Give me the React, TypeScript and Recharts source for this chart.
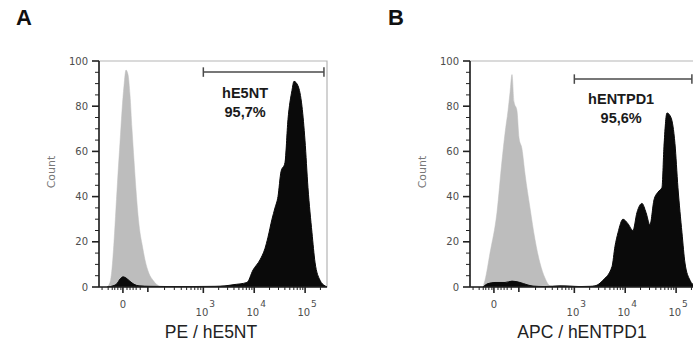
import React from 'react';
import {
  Area,
  AreaChart,
  ReferenceArea,
  ReferenceDot,
  ReferenceLine,
  XAxis,
  YAxis,
} from 'recharts';

type Pt = [number, number];

// x = position on the biexponential axis in decades (3 = 10^3), y = count
const peIsotype: Pt[] = [
  [1.107, 0], [1.166, 2], [1.205, 8], [1.245, 20], [1.284, 35], [1.323, 50],
  [1.363, 64], [1.402, 78], [1.441, 89], [1.48, 96], [1.52, 94], [1.559, 85],
  [1.598, 70], [1.638, 56], [1.677, 43], [1.716, 32], [1.756, 24], [1.795, 19],
  [1.854, 12], [1.932, 6], [2.011, 3], [2.089, 1], [2.168, 0],
];

const peStained: Pt[] = [
  [1.107, 0], [1.225, 0.5], [1.304, 1.5], [1.363, 3.5], [1.422, 4.5], [1.48, 4],
  [1.559, 2.5], [1.638, 1.2], [1.736, 0.5], [1.952, 0.3], [2.345, 0.2], [2.738, 0.2],
  [3.229, 0.3], [3.425, 0.5], [3.583, 1], [3.858, 2], [3.976, 7.5], [4.113, 12],
  [4.211, 17], [4.27, 22], [4.349, 30], [4.408, 35], [4.467, 40], [4.526, 51],
  [4.604, 55], [4.663, 74], [4.742, 87], [4.781, 91], [4.86, 89], [4.938, 80],
  [4.997, 65], [5.056, 44], [5.135, 24], [5.194, 11], [5.292, 3], [5.39, 0.5], [5.43, 0],
];

const apcIsotype: Pt[] = [
  [1.205, 0], [1.245, 3], [1.343, 15], [1.48, 33], [1.579, 56], [1.638, 68],
  [1.697, 78], [1.736, 86], [1.775, 94], [1.814, 82], [1.873, 78], [1.913, 66],
  [1.972, 61], [2.031, 50], [2.129, 35], [2.227, 21], [2.325, 10.6], [2.423, 4],
  [2.522, 0.5], [2.64, 0],
];

const apcStained: Pt[] = [
  [1.205, 0], [1.304, 1.5], [1.441, 2], [1.638, 2], [1.775, 2.6], [1.932, 2],
  [2.07, 1], [2.188, 0.4], [2.423, 0.2], [2.718, 0.5], [2.915, 0.4], [3.111, 0.2],
  [3.308, 0.3], [3.406, 0.5], [3.563, 3], [3.74, 9], [3.799, 18], [3.858, 24],
  [3.956, 30], [4.054, 28], [4.152, 25], [4.231, 33], [4.329, 37], [4.408, 33],
  [4.486, 27.5], [4.565, 38.5], [4.644, 42], [4.722, 44], [4.761, 62], [4.82, 77],
  [4.899, 75], [4.977, 63.5], [5.036, 44], [5.115, 24], [5.174, 10.6], [5.272, 3],
  [5.37, 0.5], [5.43, 0],
];

const X_DOMAIN: [number, number] = [0.95, 5.43];
const xMajorTicks = [1.42, 3, 4, 5];
const xMajorLabels = ['0', '3', '4', '5']; // '0' is plain, the others are powers of ten
const xMidTicks = [1.91];
const xLinearMinor = [1.01, 1.13, 1.21, 1.26, 1.32, 1.38, 1.5, 1.56, 1.62, 1.68, 1.76];

const logMinor: number[] = [];
[[1.91, 3], [3, 4], [4, 5], [5, 6]].forEach(([a, b]) => {
  for (let k = 2; k <= 9; k++) {
    const v = a + Math.log10(k) * (b - a);
    if (v < X_DOMAIN[1]) logMinor.push(v);
  }
});
const xTicks = [...xMajorTicks, ...xMidTicks, ...xLinearMinor, ...logMinor].sort((a, b) => a - b);

const yTicks = Array.from({ length: 21 }, (_, i) => i * 5);

const AXIS = '#222';
const TICK_TEXT = '#4d4d4d';
const SANS = '"Liberation Sans", Arial, sans-serif';
const TICK_FONT = '"DejaVu Sans", sans-serif';

function toRows(iso: Pt[], stained: Pt[]) {
  const rows = [
    ...iso.map(([x, y]) => ({ x, iso: y as number | null, stained: null as number | null })),
    ...stained.map(([x, y]) => ({ x, iso: null as number | null, stained: y as number | null })),
  ];
  return rows.sort((a, b) => a.x - b.x);
}

function XTick(props: any) {
  const { x, y, payload } = props;
  const v = payload.value as number;
  const mi = xMajorTicks.findIndex((m) => Math.abs(m - v) < 1e-6);
  const mid = xMidTicks.some((m) => Math.abs(m - v) < 1e-6);
  const len = mi >= 0 ? 6 : mid ? 5 : 3;
  let label = null;
  if (mi === 0) {
    label = (
      <text x={x} y={y + 21} textAnchor="middle" fontSize={10} fill={TICK_TEXT} fontFamily={TICK_FONT}>
        0
      </text>
    );
  } else if (mi > 0) {
    label = (
      <g fill={TICK_TEXT} fontFamily={TICK_FONT}>
        <text x={x + 5} y={y + 29} textAnchor="end" fontSize={10}>10</text>
        <text x={x + 6} y={y + 20} textAnchor="start" fontSize={9}>{xMajorLabels[mi]}</text>
      </g>
    );
  }
  return (
    <g>
      <line x1={x} x2={x} y1={y} y2={y + len} stroke={AXIS} strokeWidth={mi >= 0 || mid ? 1.6 : 1} />
      {label}
    </g>
  );
}

function YTick(props: any) {
  const { x, y, payload } = props;
  const v = payload.value as number;
  const major = v % 20 === 0;
  return (
    <g>
      <line x1={x} x2={x - (major ? 7 : 4)} y1={y} y2={y} stroke={AXIS} strokeWidth={major ? 1.6 : 1} />
      {major && (
        <text x={x - 11} y={y + 3.5} textAnchor="end" fontSize={10} fill={TICK_TEXT} fontFamily={TICK_FONT}>
          {v}
        </text>
      )}
    </g>
  );
}

function CountLabel(props: any) {
  const { viewBox } = props;
  const cx = viewBox.x + viewBox.width - 48;
  const cy = viewBox.y + viewBox.height / 2 - 2;
  return (
    <text
      x={cx}
      y={cy}
      transform={`rotate(-90, ${cx}, ${cy})`}
      textAnchor="middle"
      dominantBaseline="central"
      fontSize={11}
      fill="#777"
      fontFamily={TICK_FONT}
    >
      Count
    </text>
  );
}

function AxisTitle(props: any) {
  const { viewBox, value } = props;
  return (
    <text
      x={viewBox.x + viewBox.width / 2 - 2}
      y={viewBox.y + 51}
      textAnchor="middle"
      fontSize={17.5}
      fill="#222"
      fontFamily={SANS}
    >
      {value}
    </text>
  );
}

function GateText(props: any) {
  const { viewBox, lines } = props;
  const cx = viewBox.x + viewBox.width / 2;
  const cy = viewBox.y + viewBox.height / 2;
  return (
    <text textAnchor="middle" fontSize={14.5} fontWeight="bold" fill="#1a1a1a" fontFamily={SANS}>
      <tspan x={cx} y={cy}>{lines[0]}</tspan>
      <tspan x={cx} dy={19}>{lines[1]}</tspan>
    </text>
  );
}

interface PanelProps {
  iso: Pt[];
  stained: Pt[];
  title: string;
  gate: { from: number; to: number; y: number };
  gateLabel: [string, string];
  labelAt: { x: number; y: number };
  width: number;
  marginLeft: number;
  marginRight: number;
}

function Histogram({ iso, stained, title, gate, gateLabel, labelAt, width, marginLeft, marginRight }: PanelProps) {
  const data = toRows(iso, stained);
  const cap = 2.1;
  return (
    <AreaChart
      width={width}
      height={345}
      data={data}
      margin={{ top: 61, right: marginRight, bottom: 28, left: marginLeft }}
    >
      <ReferenceArea x1={X_DOMAIN[0]} x2={X_DOMAIN[1]} y1={0} y2={100} fill="none" stroke="#b5b5b5" strokeWidth={1.2} />
      <XAxis
        type="number"
        dataKey="x"
        domain={X_DOMAIN}
        allowDataOverflow
        ticks={xTicks}
        interval={0}
        tick={<XTick />}
        tickLine={false}
        tickSize={0}
        tickMargin={0}
        height={30}
        axisLine={{ stroke: AXIS, strokeWidth: 1.6 }}
        label={<AxisTitle value={title} />}
      />
      <YAxis
        type="number"
        domain={[0, 100]}
        allowDataOverflow
        ticks={yTicks}
        interval={0}
        tick={<YTick />}
        tickLine={false}
        tickSize={0}
        tickMargin={0}
        width={40}
        axisLine={{ stroke: AXIS, strokeWidth: 1.6 }}
        label={<CountLabel />}
      />
      <Area
        type="monotone"
        dataKey="iso"
        connectNulls
        fill="#bdbdbd"
        fillOpacity={1}
        stroke="#bdbdbd"
        strokeWidth={0.5}
        dot={false}
        activeDot={false}
        isAnimationActive={false}
      />
      <Area
        type="monotone"
        dataKey="stained"
        connectNulls
        fill="#0a0a0a"
        fillOpacity={1}
        stroke="#0a0a0a"
        strokeWidth={1}
        dot={false}
        activeDot={false}
        isAnimationActive={false}
      />
      <ReferenceLine segment={[{ x: gate.from, y: gate.y }, { x: gate.to, y: gate.y }]} stroke="#4a4a4a" strokeWidth={1.5} />
      <ReferenceLine segment={[{ x: gate.from, y: gate.y - cap }, { x: gate.from, y: gate.y + cap }]} stroke="#4a4a4a" strokeWidth={1.5} />
      <ReferenceLine segment={[{ x: gate.to, y: gate.y - cap }, { x: gate.to, y: gate.y + cap }]} stroke="#4a4a4a" strokeWidth={1.5} />
      <ReferenceDot x={labelAt.x} y={labelAt.y} r={0} fill="none" stroke="none" label={<GateText lines={gateLabel} />} />
    </AreaChart>
  );
}

export default function App() {
  return (
    <div
      style={{
        position: 'fixed',
        left: 0,
        top: 0,
        width: 693,
        height: 345,
        overflow: 'hidden',
        background: '#fff',
      }}
    >
      <div style={{ position: 'absolute', left: 16, top: 5, fontFamily: SANS, fontWeight: 'bold', fontSize: 22, color: '#111' }}>A</div>
      <div style={{ position: 'absolute', left: 388, top: 5, fontFamily: SANS, fontWeight: 'bold', fontSize: 22, color: '#111' }}>B</div>
      <div style={{ position: 'absolute', left: 0, top: 0 }}>
        <Histogram
          iso={peIsotype}
          stained={peStained}
          title="PE / hE5NT"
          gate={{ from: 3, to: 5.37, y: 95.1 }}
          gateLabel={['hE5NT', '95,7%']}
          labelAt={{ x: 3.82, y: 83.6 }}
          width={350}
          marginLeft={59}
          marginRight={23}
        />
      </div>
      <div style={{ position: 'absolute', left: 350, top: 0 }}>
        <Histogram
          iso={apcIsotype}
          stained={apcStained}
          title="APC / hENTPD1"
          gate={{ from: 3, to: 5.31, y: 92 }}
          gateLabel={['hENTPD1', '95,6%']}
          labelAt={{ x: 3.92, y: 81 }}
          width={360}
          marginLeft={80}
          marginRight={12}
        />
      </div>
    </div>
  );
}
